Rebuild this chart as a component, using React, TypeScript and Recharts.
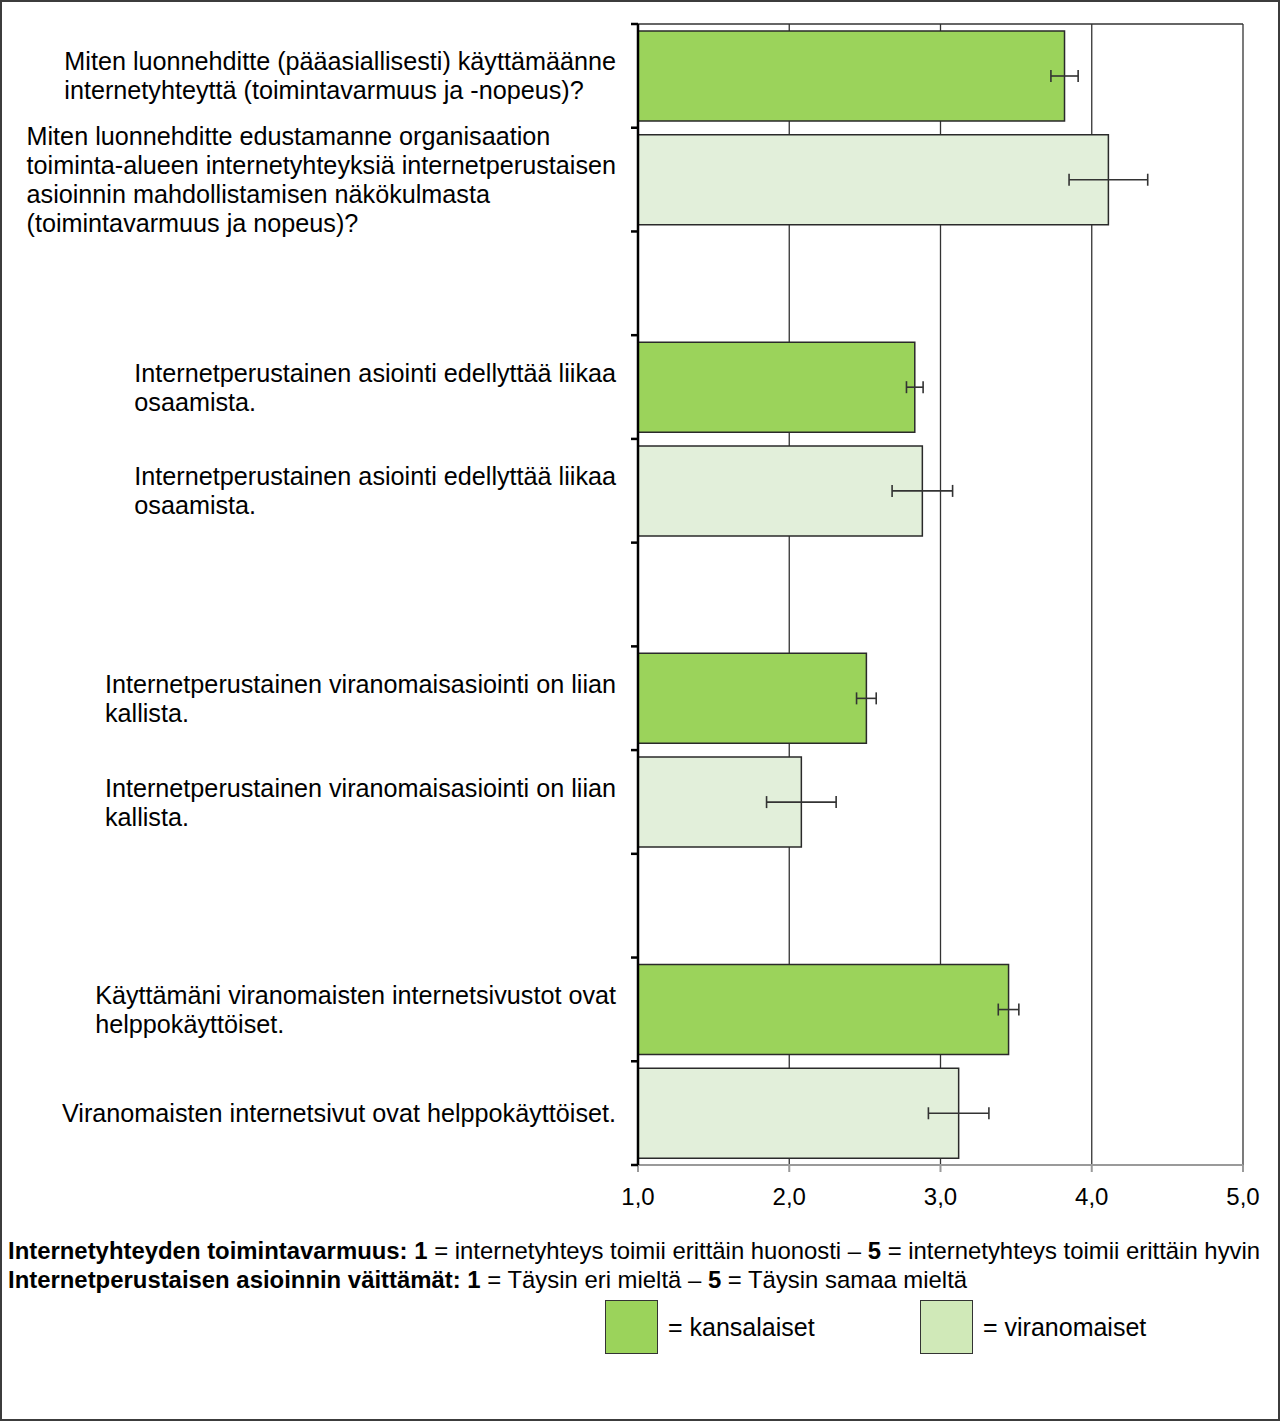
import React from 'react';
import { BarChart, Bar, XAxis, YAxis, CartesianGrid, ErrorBar, Cell } from 'recharts';

// Question texts, one array of lines per question
const kansalaisetLabels: string[][] = [
  ['Miten luonnehditte (pääasiallisesti) käyttämäänne', 'internetyhteyttä (toimintavarmuus ja -nopeus)?'],
  ['Internetperustainen asiointi edellyttää liikaa', 'osaamista.'],
  ['Internetperustainen viranomaisasiointi on liian', 'kallista.'],
  ['Käyttämäni viranomaisten internetsivustot ovat', 'helppokäyttöiset.'],
];
const viranomaisetLabels: string[][] = [
  [
    'Miten luonnehditte edustamanne organisaation',
    'toiminta-alueen internetyhteyksiä internetperustaisen',
    'asioinnin mahdollistamisen näkökulmasta',
    '(toimintavarmuus ja nopeus)?',
  ],
  ['Internetperustainen asiointi edellyttää liikaa', 'osaamista.'],
  ['Internetperustainen viranomaisasiointi on liian', 'kallista.'],
  ['Viranomaisten internetsivut ovat helppokäyttöiset.'],
];

// Mean scores (1–5) and error margins
const kansalaisetValues = [3.82, 2.83, 2.51, 3.45];
const kansalaisetErrors = [0.09, 0.055, 0.065, 0.068];
const viranomaisetValues = [4.11, 2.88, 2.08, 3.12];
const viranomaisetErrors = [0.26, 0.2, 0.23, 0.2];

const xTicks = [1, 2, 3, 4, 5];

const GREEN = '#9BD35B';
const LIGHT = '#E2EFDA';
const LEGEND_LIGHT = '#D0E9B8';
const FONT = "'Liberation Sans', Arial, Helvetica, sans-serif";

type Row = { key: string; lines: string[]; value: number | null; err: number | null; fill: string };

const rows: Row[] = [];
kansalaisetValues.forEach((v, i) => {
  rows.push({ key: `k${i}`, lines: kansalaisetLabels[i], value: v, err: kansalaisetErrors[i], fill: GREEN });
  rows.push({ key: `v${i}`, lines: viranomaisetLabels[i], value: viranomaisetValues[i], err: viranomaisetErrors[i], fill: LIGHT });
  if (i < kansalaisetValues.length - 1) rows.push({ key: `gap${i}`, lines: [], value: null, err: null, fill: 'none' });
});
const rowByKey: Record<string, number> = {};
rows.forEach((r, i) => (rowByKey[r.key] = i));

const CHART_W = 1280;
const CHART_H = 1230;
const PLOT_TOP = 24;
const PLOT_BOTTOM = 1165;
const PLOT_LEFT = 638;
const PLOT_RIGHT = 1243;
const X_AXIS_H = 40;
const BAND = (PLOT_BOTTOM - PLOT_TOP) / rows.length;
const LABEL_RIGHT = 616;
const LABEL_SIZE = 25.2;
const LINE_H = 29;

let measureCtx: CanvasRenderingContext2D | null = null;
function textWidth(text: string, size: number, weight = 'normal'): number {
  if (!measureCtx) measureCtx = document.createElement('canvas').getContext('2d');
  if (!measureCtx) return text.length * size * 0.5;
  measureCtx.font = `${weight} ${size}px ${FONT}`;
  return measureCtx.measureText(text).width;
}

function CategoryTick(props: any) {
  const { y, payload } = props;
  const idx = rowByKey[payload.value];
  const row = rows[idx];
  if (!row) return null;
  const lines = row.lines;
  const blockW = lines.length ? Math.max(...lines.map((l) => textWidth(l, LABEL_SIZE))) : 0;
  const left = LABEL_RIGHT - blockW;
  const first = y - ((lines.length - 1) * LINE_H) / 2;
  const isLast = idx === rows.length - 1;
  return (
    <g>
      <line x1={PLOT_LEFT - 7} x2={PLOT_LEFT} y1={y - BAND / 2} y2={y - BAND / 2} stroke="#000" strokeWidth={2.5} />
      {isLast && (
        <line x1={PLOT_LEFT - 7} x2={PLOT_LEFT} y1={y + BAND / 2} y2={y + BAND / 2} stroke="#000" strokeWidth={2.5} />
      )}
      <text fontFamily={FONT} fontSize={LABEL_SIZE} fill="#000">
        {lines.map((l, i) => (
          <tspan key={i} x={left} y={first + i * LINE_H} dy="0.36em">
            {l}
          </tspan>
        ))}
      </text>
    </g>
  );
}

const formatTick = (v: number) => v.toFixed(1).replace('.', ',');

const footerStyle: React.CSSProperties = {
  position: 'absolute',
  left: 8,
  fontFamily: FONT,
  fontSize: 23.9,
  lineHeight: '29px',
  whiteSpace: 'nowrap',
  color: '#000',
};

export default function App() {
  return (
    <div style={{ position: 'absolute', left: 0, top: 0, width: 1280, height: 1421, background: '#fff' }}>
      <div style={{ position: 'absolute', left: 0, top: 0 }}>
        <BarChart
          width={CHART_W}
          height={CHART_H}
          data={rows}
          layout="vertical"
          barSize={90}
          margin={{ top: PLOT_TOP, right: CHART_W - PLOT_RIGHT, bottom: CHART_H - PLOT_BOTTOM - X_AXIS_H, left: 0 }}
        >
          <CartesianGrid
            stroke="#333"
            strokeWidth={1.3}
            horizontal={true}
            vertical={true}
            horizontalPoints={[PLOT_TOP]}
          />
          <XAxis
            type="number"
            domain={[1, 5]}
            ticks={xTicks}
            allowDataOverflow
            tickFormatter={formatTick}
            height={X_AXIS_H}
            axisLine={{ stroke: '#9a9a9a', strokeWidth: 2 }}
            tickLine={{ stroke: '#9a9a9a', strokeWidth: 2 }}
            tickSize={7}
            tickMargin={16}
            tick={{ fill: '#000', fontSize: 24, fontFamily: FONT }}
          />
          <YAxis
            type="category"
            dataKey="key"
            width={PLOT_LEFT}
            interval={0}
            axisLine={{ stroke: '#000', strokeWidth: 2.5 }}
            tickLine={false}
            tick={<CategoryTick />}
          />
          <Bar dataKey="value" isAnimationActive={false} stroke="#2a2a2a" strokeWidth={1.5}>
            {rows.map((r) => (
              <Cell key={r.key} fill={r.fill} />
            ))}
            <ErrorBar dataKey="err" direction="x" width={6} stroke="#333" strokeWidth={1.6} />
          </Bar>
        </BarChart>
      </div>

      <div style={{ ...footerStyle, top: 1236 }}>
        <b>Internetyhteyden toimintavarmuus: 1</b> = internetyhteys toimii erittäin huonosti – <b>5</b> = internetyhteys
        toimii erittäin hyvin
      </div>
      <div style={{ ...footerStyle, top: 1265 }}>
        <b>Internetperustaisen asioinnin väittämät: 1</b> = Täysin eri mieltä – <b>5</b> = Täysin samaa mieltä
      </div>

      <div
        style={{
          position: 'absolute', left: 605, top: 1300, width: 51, height: 52,
          background: GREEN, border: '1.5px solid #333',
        }}
      />
      <div style={{ position: 'absolute', left: 668, top: 1312, fontFamily: FONT, fontSize: 25, lineHeight: '30px' }}>
        = kansalaiset
      </div>
      <div
        style={{
          position: 'absolute', left: 920, top: 1300, width: 51, height: 52,
          background: LEGEND_LIGHT, border: '1.5px solid #333',
        }}
      />
      <div style={{ position: 'absolute', left: 983, top: 1312, fontFamily: FONT, fontSize: 25, lineHeight: '30px' }}>
        = viranomaiset
      </div>

      <div
        style={{
          position: 'absolute', left: 0, top: 0, width: 1280, height: 1421,
          boxSizing: 'border-box', border: '2px solid #3c3c3c', pointerEvents: 'none',
        }}
      />
    </div>
  );
}
